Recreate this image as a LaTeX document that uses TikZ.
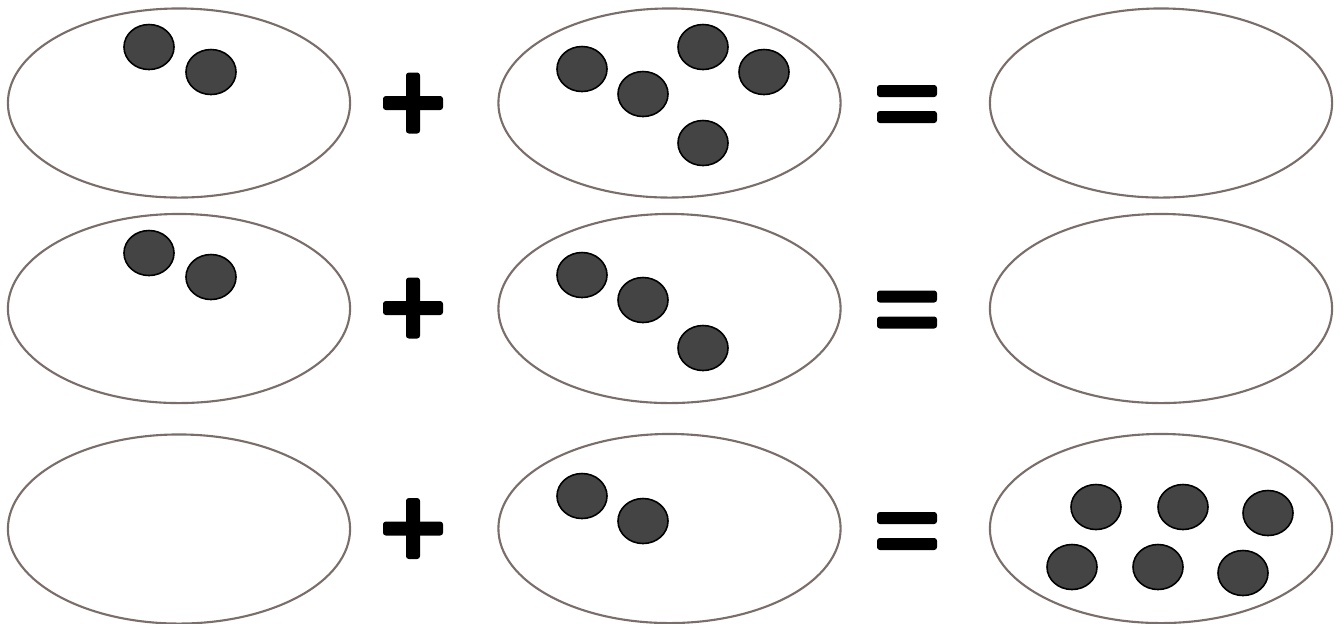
\documentclass[tikz,border=0pt]{standalone}
\usetikzlibrary{shapes.geometric}
\definecolor{rim}{HTML}{7A6E6A}
\definecolor{dotfill}{HTML}{444444}
\tikzset{
  setbox/.style={ellipse, draw=rim, line width=0.6pt, fill=white, inner sep=0pt, minimum width=3.42cm, minimum height=1.89cm},
  counter/.style={ellipse, draw=black, line width=0.45pt, fill=dotfill, inner sep=0pt, minimum width=0.5cm, minimum height=0.45cm},
  bar/.style={fill=black, rounded corners=0.8pt}
}
\newcommand{\plussign}[2]{%
  \fill[bar] (#1-30,#2-7) rectangle (#1+30,#2+7);
  \fill[bar] (#1-7,#2-30.5) rectangle (#1+7,#2+30.5);}
\newcommand{\equalsign}[2]{%
  \fill[bar] (#1-30,#2-19) rectangle (#1+30,#2-7);
  \fill[bar] (#1-30,#2+7) rectangle (#1+30,#2+19);}
\begin{document}
\begin{tikzpicture}[x=0.01cm,y=-0.01cm]
\useasboundingbox[fill=white] (0,0) rectangle (1342,623);
% row 1
\node[setbox] (a1) at (179,103) {};
\node[setbox] (b1) at (669.5,103) {};
\node[setbox] (c1) at (1161,103) {};
\node[counter] (a1d1) at (149,47) {};
\node[counter] (a1d2) at (211,72) {};
\node[counter] (b1d1) at (582,69) {};
\node[counter] (b1d2) at (643,94) {};
\node[counter] (b1d3) at (703,47) {};
\node[counter] (b1d4) at (764,72) {};
\node[counter] (b1d5) at (703,143) {};
\plussign{413}{103}
\equalsign{907}{104}
% row 2
\node[setbox] (a2) at (179,308.5) {};
\node[setbox] (b2) at (669.5,308.5) {};
\node[setbox] (c2) at (1161,308.5) {};
\node[counter] (a2d1) at (149,253) {};
\node[counter] (a2d2) at (211,277) {};
\node[counter] (b2d1) at (582,275) {};
\node[counter] (b2d2) at (643,300) {};
\node[counter] (b2d3) at (703,348) {};
\plussign{413}{308}
\equalsign{907}{309.5}
% row 3
\node[setbox] (a3) at (179,529) {};
\node[setbox] (b3) at (669.5,528.5) {};
\node[setbox] (c3) at (1161,528.5) {};
\node[counter] (b3d1) at (582,496) {};
\node[counter] (b3d2) at (643,521) {};
\node[counter] (c3d1) at (1096,507) {};
\node[counter] (c3d2) at (1183,507) {};
\node[counter] (c3d3) at (1268,513) {};
\node[counter] (c3d4) at (1072,567) {};
\node[counter] (c3d5) at (1158,567) {};
\node[counter] (c3d6) at (1243,573) {};
\plussign{413}{528.5}
\equalsign{907}{531}
\end{tikzpicture}
\end{document}
